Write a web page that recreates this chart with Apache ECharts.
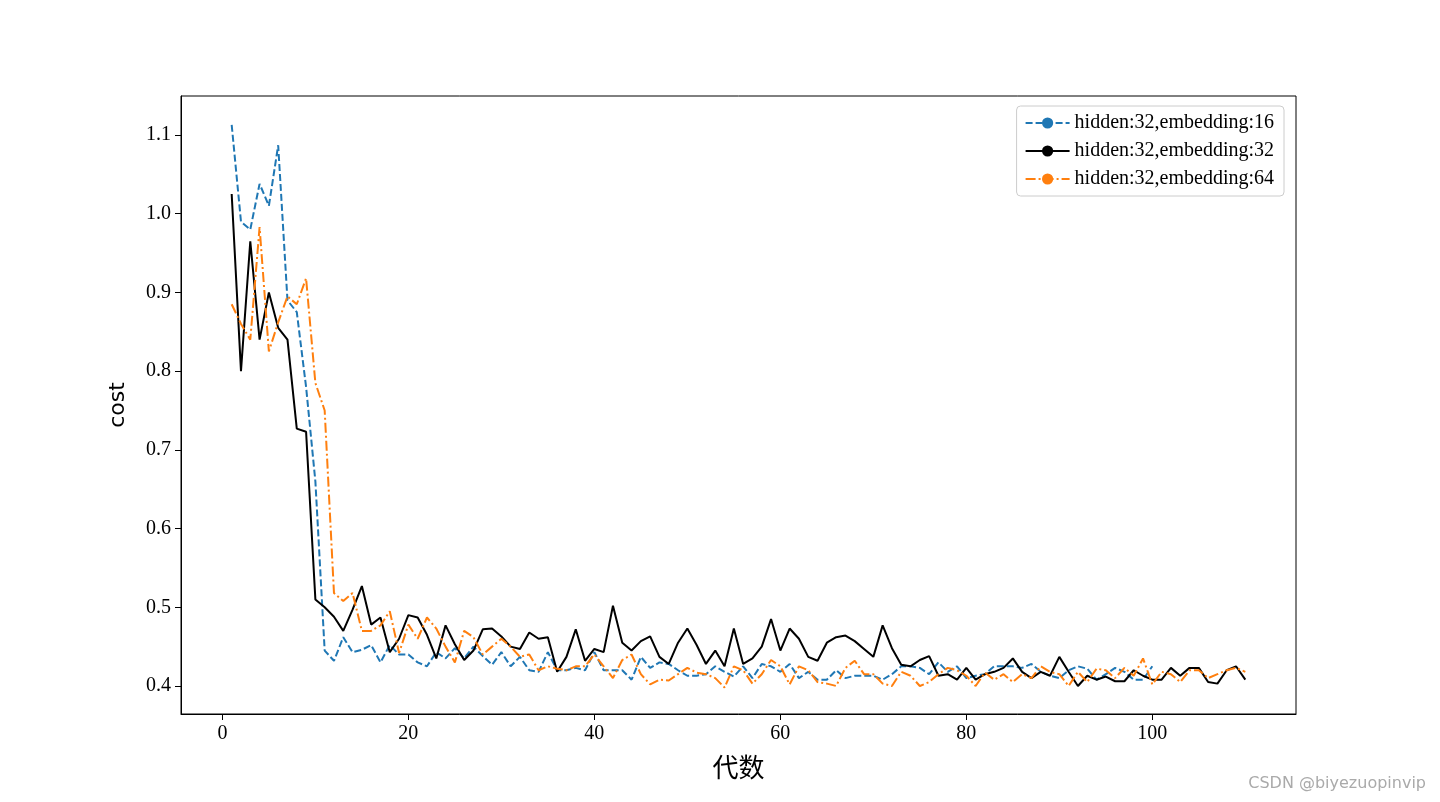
<!DOCTYPE html>
<html lang="en">
<head>
<meta charset="UTF-8">
<title>cost</title>
<script src="https://cdn.jsdelivr.net/npm/echarts@6/dist/echarts.min.js"></script>
<style>
    body { margin: 0; background: #fff; }
    #main { width: 1440px; height: 802px; }
</style>
</head>
<body>
<div id="main"></div>
<script>
    // cost per generation
    const emb16 = [1.113,0.99,0.98,1.038,1.01,1.087,0.89,0.875,0.78,0.66,
        0.445,0.432,0.462,0.443,0.446,0.452,0.43,0.452,0.44,0.44,
        0.43,0.425,0.443,0.435,0.448,0.435,0.45,0.438,0.427,0.443,
        0.425,0.437,0.42,0.418,0.443,0.42,0.42,0.423,0.42,0.443,
        0.42,0.42,0.42,0.408,0.437,0.423,0.43,0.428,0.42,0.413,
        0.413,0.415,0.425,0.418,0.412,0.425,0.41,0.428,0.425,0.418,
        0.428,0.41,0.418,0.408,0.408,0.42,0.41,0.413,0.413,0.413,
        0.408,0.415,0.425,0.425,0.423,0.415,0.43,0.418,0.425,0.41,
        0.413,0.415,0.425,0.425,0.425,0.423,0.428,0.418,0.413,0.41,
        0.42,0.425,0.422,0.408,0.415,0.423,0.418,0.408,0.408,0.425];
    const emb32 = [1.025,0.80,0.965,0.84,0.90,0.855,0.84,0.727,0.723,0.51,
        0.50,0.488,0.47,0.497,0.527,0.478,0.487,0.443,0.46,0.49,
        0.487,0.465,0.435,0.477,0.453,0.433,0.445,0.472,0.473,0.463,
        0.45,0.447,0.468,0.46,0.462,0.418,0.437,0.472,0.432,0.447,
        0.443,0.502,0.455,0.445,0.457,0.463,0.437,0.428,0.455,0.473,
        0.452,0.428,0.445,0.425,0.473,0.428,0.435,0.45,0.485,0.445,
        0.473,0.46,0.437,0.432,0.455,0.462,0.464,0.457,0.447,0.437,
        0.477,0.448,0.427,0.425,0.433,0.438,0.413,0.415,0.408,0.423,
        0.408,0.415,0.418,0.423,0.435,0.418,0.41,0.418,0.413,0.437,
        0.418,0.40,0.413,0.408,0.412,0.406,0.406,0.42,0.413,0.408,
        0.408,0.423,0.413,0.423,0.423,0.405,0.403,0.42,0.425,0.408];
    const emb64 = [0.885,0.86,0.84,0.983,0.825,0.862,0.895,0.885,0.918,0.785,
        0.75,0.518,0.508,0.518,0.47,0.47,0.477,0.495,0.442,0.478,
        0.46,0.487,0.473,0.45,0.43,0.47,0.462,0.44,0.45,0.46,
        0.45,0.437,0.44,0.42,0.425,0.422,0.42,0.425,0.425,0.44,
        0.425,0.41,0.433,0.44,0.415,0.402,0.408,0.407,0.415,0.423,
        0.417,0.415,0.41,0.398,0.425,0.42,0.403,0.415,0.433,0.425,
        0.402,0.425,0.42,0.405,0.403,0.40,0.423,0.432,0.415,0.415,
        0.403,0.4,0.418,0.413,0.4,0.405,0.415,0.423,0.42,0.413,
        0.4,0.417,0.408,0.415,0.405,0.415,0.41,0.425,0.418,0.415,
        0.4,0.418,0.405,0.422,0.42,0.41,0.423,0.413,0.435,0.402,
        0.418,0.415,0.405,0.42,0.42,0.41,0.415,0.42,0.423,0.418];
    const seriesNames = ['hidden:32,embedding:16', 'hidden:32,embedding:32', 'hidden:32,embedding:64'];
    const xTicks = [0, 20, 40, 60, 80, 100];
    const yTicks = [0.4, 0.5, 0.6, 0.7, 0.8, 0.9, 1.0, 1.1];

    const pairs = arr => arr.map((v, i) => [i + 1, v]);
    const serif = 'Liberation Serif';

    let myChart = echarts.init(document.getElementById('main'));
    option = {
        animation: false,
        grid: { left: 181, right: 144, top: 96, bottom: 88, show: true, borderColor: '#000', borderWidth: 1 },
        legend: {
            right: 156, top: 106, orient: 'vertical', itemGap: 8,
            itemWidth: 44, itemHeight: 14,
            padding: [7, 10, 7, 8],
            borderColor: '#ccc', borderWidth: 1, borderRadius: 4,
            textStyle: { fontFamily: serif, fontSize: 20, color: '#000' },
            data: seriesNames
        },
        xAxis: {
            type: 'value', min: -4.45, max: 115.45,
            name: '代数', nameLocation: 'middle', nameGap: 40,
            nameTextStyle: { fontFamily: 'Noto Sans CJK SC', fontSize: 26, color: '#000' },
            splitLine: { show: false },
            axisLine: { onZero: false, lineStyle: { color: '#000' } },
            axisTick: { length: 6, customValues: xTicks, lineStyle: { color: '#000' } },
            axisLabel: { customValues: xTicks, fontFamily: serif, fontSize: 20, color: '#000', margin: 10 }
        },
        yAxis: {
            type: 'value', min: 0.3644, max: 1.1496,
            name: 'cost', nameLocation: 'middle', nameGap: 52,
            nameTextStyle: { fontFamily: 'DejaVu Sans', fontSize: 22, color: '#000' },
            splitLine: { show: false },
            axisLine: { show: true, onZero: false, lineStyle: { color: '#000' } },
            axisTick: { show: true, length: 6, customValues: yTicks, lineStyle: { color: '#000' } },
            axisLabel: { customValues: yTicks, fontFamily: serif, fontSize: 20, color: '#000', margin: 10,
                formatter: v => v.toFixed(1) }
        },
        series: [
            { name: seriesNames[0], type: 'line', data: pairs(emb16), symbol: 'none',
              itemStyle: { color: '#1f77b4' },
              lineStyle: { color: '#1f77b4', width: 2, type: [7, 3] } },
            { name: seriesNames[1], type: 'line', data: pairs(emb32), symbol: 'none',
              itemStyle: { color: '#000' },
              lineStyle: { color: '#000', width: 2 } },
            { name: seriesNames[2], type: 'line', data: pairs(emb64), symbol: 'none',
              itemStyle: { color: '#ff7f0e' },
              lineStyle: { color: '#ff7f0e', width: 2, type: [10, 3, 2, 3] } }
        ],
        graphic: [{
            type: 'text', right: 14, bottom: 10,
            style: { text: 'CSDN @biyezuopinvip', fill: '#aaa', font: '16px "DejaVu Sans"' }
        }]
    };
    myChart.setOption(option);
</script>
</body>
</html>
